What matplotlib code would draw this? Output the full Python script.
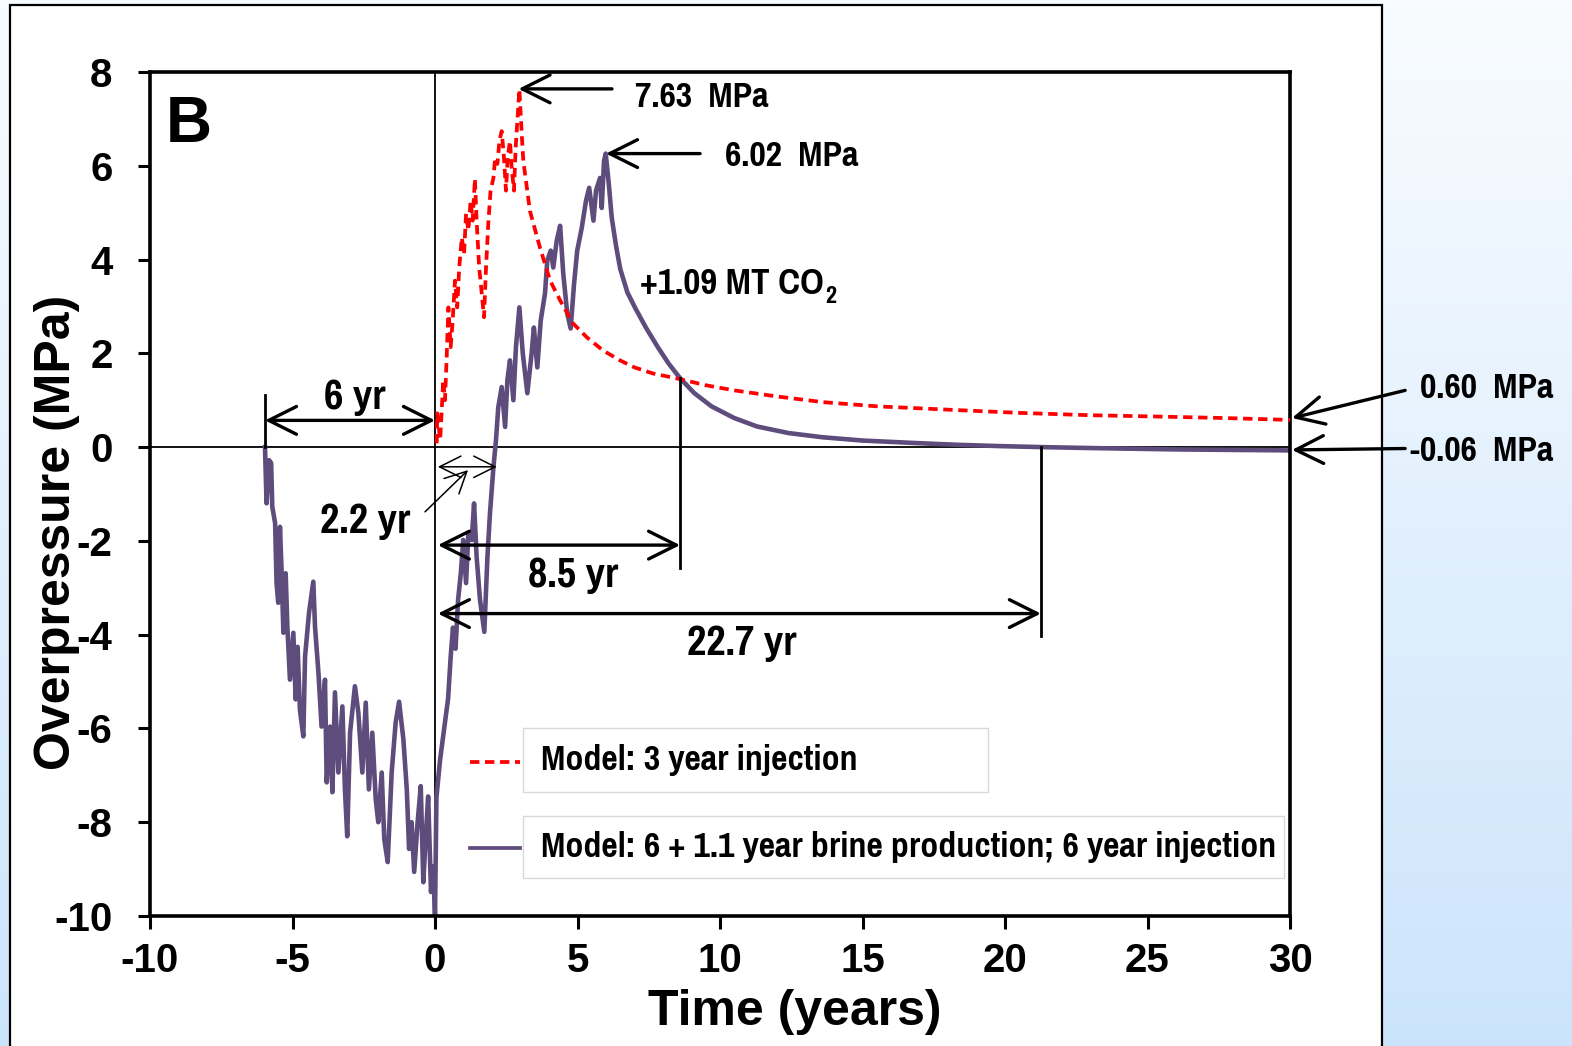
import numpy as np
import matplotlib
matplotlib.use("Agg")
import matplotlib.pyplot as plt
from matplotlib.patches import Rectangle
import logging
logging.getLogger("matplotlib.font_manager").setLevel(logging.ERROR)

# ---------------- data ----------------
# Brine production (6 yr) then 6 yr injection, then relaxation
purple_t = [-5.965, -5.91, -5.82, -5.75, -5.71, -5.61, -5.56, -5.50, -5.44, -5.38, -5.32, -5.24,
            -5.18, -5.09, -4.97, -4.89, -4.82, -4.74, -4.62, -4.56, -4.42, -4.27, -4.21, -4.09,
            -3.98, -3.86, -3.80, -3.68, -3.60, -3.51, -3.39, -3.25, -3.16, -3.08, -2.98, -2.81,
            -2.69, -2.55, -2.43, -2.32, -2.20, -2.08, -1.99, -1.87, -1.78, -1.66, -1.52, -1.38,
            -1.26, -1.11, -0.99, -0.91, -0.82, -0.73, -0.61, -0.50, -0.41, -0.33, -0.24, -0.14,
            -0.06, 0.00,
            0.05, 0.18, 0.30, 0.46, 0.55, 0.63, 0.72, 0.81, 0.91, 0.99, 1.09, 1.17, 1.29, 1.37,
            1.46, 1.58, 1.73, 1.84, 1.93, 2.05, 2.14, 2.22, 2.34, 2.46, 2.54, 2.63, 2.75, 2.84,
            2.96, 3.08, 3.24, 3.39, 3.47, 3.59, 3.71, 3.86, 3.94, 4.06, 4.15, 4.27, 4.39, 4.50,
            4.64, 4.76, 4.88, 4.99, 5.15, 5.30, 5.41, 5.56, 5.65, 5.79, 5.85, 5.93, 5.99,
            6.10, 6.20, 6.35, 6.50, 6.75, 7.04, 7.40, 7.82, 8.20, 8.60, 9.10, 9.70, 10.5, 11.3,
            12.4, 13.6, 15.0, 16.75, 18.3, 19.9, 21.3, 23.0, 26.1, 30.0]
purple_p = [0.00, -1.20, -0.28, -0.34, -1.27, -1.62, -2.90, -3.32, -1.70, -2.69, -3.96, -2.69,
            -3.83, -4.96, -3.96, -5.38, -4.26, -5.60, -6.17, -4.47, -3.53, -2.87, -3.83, -4.81,
            -5.96, -4.96, -7.15, -5.96, -7.36, -5.23, -6.94, -5.53, -7.30, -8.30, -6.09, -5.10,
            -5.66, -6.94, -5.45, -7.30, -6.09, -7.51, -8.00, -6.94, -8.36, -8.85, -6.94, -5.87,
            -5.43, -6.23, -7.30, -8.57, -8.00, -9.06, -8.00, -7.23, -9.28, -8.36, -7.45, -9.49,
            -8.94, -10.0,
            -7.47, -6.66, -6.10, -5.36, -4.47, -3.85, -4.30, -3.26, -2.66, -1.98, -2.90, -1.83,
            -1.98, -1.20, -2.34, -3.26, -3.94, -2.34, -1.40, -0.43, 0.15, 0.85, 1.28, 0.43, 1.43,
            1.85, 1.00, 2.13, 2.98, 2.00, 1.15, 2.00, 2.55, 1.70, 2.70, 3.28, 3.98, 4.19, 3.83,
            4.40, 4.72, 3.70, 2.85, 2.53, 3.49, 4.19, 4.68, 5.26, 5.53, 4.83, 5.47, 5.74, 5.10,
            6.10, 6.26,
            5.60, 4.90, 4.30, 3.80, 3.30, 2.95, 2.55, 2.13, 1.78, 1.47, 1.15, 0.87, 0.62, 0.44,
            0.30, 0.21, 0.14, 0.09, 0.05, 0.02, 0.00, -0.02, -0.05, -0.07]

# 3 year injection, then relaxation
red_t = [0.06, 0.08, 0.18, 0.23, 0.29, 0.35, 0.41, 0.47, 0.55, 0.62, 0.70, 0.78, 0.85, 0.94,
         1.02, 1.09, 1.17, 1.25, 1.32, 1.40, 1.46, 1.55, 1.64, 1.72, 1.79, 1.87, 1.95, 2.05,
         2.11, 2.19, 2.26, 2.34, 2.42, 2.49, 2.55, 2.63, 2.69, 2.77, 2.83, 2.89, 2.96,
         3.05, 3.10, 3.33, 3.68, 4.04, 4.39, 4.84, 5.33, 5.90, 6.49, 7.00, 7.65, 8.60, 9.50,
         10.5, 12.0, 13.6, 15.5, 18.3, 20.5, 23.0, 25.5, 27.7, 30.0]
red_p = [0.08, 0.72, 0.15, 0.72, 1.43, 1.00, 1.91, 2.98, 2.13, 2.70, 3.55, 2.98, 3.83, 4.47,
         4.13, 4.98, 4.62, 5.26, 4.83, 5.72, 4.83, 3.83, 3.28, 2.77, 3.83, 4.77, 5.47, 5.74,
         6.17, 6.04, 6.53, 6.74, 6.17, 5.47, 6.17, 6.53, 5.96, 5.47, 6.38, 6.96, 7.63,
         6.60, 6.10, 5.04, 4.26, 3.55, 3.13, 2.64, 2.34, 2.06, 1.85, 1.70, 1.57, 1.45, 1.32,
         1.21, 1.08, 0.96, 0.87, 0.79, 0.73, 0.68, 0.65, 0.62, 0.58]

xticks = [-10, -5, 0, 5, 10, 15, 20, 25, 30]
yticks = [-10, -8, -6, -4, -2, 0, 2, 4, 6, 8]
legend_labels = ["Model: 3 year injection",
                 "Model: 6 + 1.1 year brine production; 6 year injection"]

PURPLE = "#5e4c7c"
RED = "#ff0000"
NARROW = ["Pragati Narrow", "PT Sans Narrow", "Fira Sans Condensed", "DejaVu Sans"]
WIDE = ["Liberation Sans", "DejaVu Sans"]

W, H = 1572, 1046
fig = plt.figure(figsize=(W / 100, H / 100), dpi=100)

# background gradient
bg = fig.add_axes([0, 0, 1, 1], zorder=-10)
top = np.array([0.975, 0.988, 1.0])
bot = np.array([0.80, 0.895, 0.985])
g = np.linspace(0, 1, 256)[:, None]
img = top[None, None, :] * (1 - g[..., None]) + bot[None, None, :] * g[..., None]
img = np.repeat(img, 4, axis=1)
bg.imshow(img, aspect="auto", extent=[0, 1, 0, 1])
bg.set_xlim(0, 1)
bg.set_ylim(0, 1)
bg.axis("off")
bg.add_patch(Rectangle((10 / W, -0.05), (1382 - 10) / W, 1.05 - 5 / H,
                       facecolor="white", edgecolor="black", lw=1.6,
                       transform=bg.transAxes))

ax = fig.add_axes([150 / W, (H - 916) / H, 1140 / W, 844 / H])
ax.set_xlim(-10, 30)
ax.set_ylim(-10, 8)
ax.set_xticks(xticks)
ax.set_yticks(yticks)
ax.set_xticklabels([str(v) for v in xticks], fontsize=29, fontweight="bold", family=WIDE)
ax.set_yticklabels([str(v) for v in yticks], fontsize=29, fontweight="bold", family=WIDE)
ax.tick_params(axis="both", direction="out", length=9, width=2.2, color="black")
ax.tick_params(axis="x", pad=10)
ax.tick_params(axis="y", pad=18)
for s in ax.spines.values():
    s.set_linewidth(2.6)
    s.set_color("black")

ax.axhline(0, color="black", lw=1.3, zorder=1)
ax.axvline(0, color="black", lw=1.3, zorder=1)

ax.plot(red_t, red_p, color=RED, lw=2.7, dashes=(2.5, 1.5), zorder=3)
ax.plot(purple_t, purple_p, color=PURPLE, lw=3.3, zorder=2)

# panel letter
ax.text(0.034, 0.937, "B", transform=ax.transAxes, fontsize=46, fontweight="bold",
        family=WIDE, ha="center", va="center")

def arrow(tip, tail, style="->", lw=2.4, ms=25, hl=0.8, hw=0.4):
    ax.annotate("", xy=tip, xytext=tail, annotation_clip=False,
                arrowprops=dict(arrowstyle=f"{style},head_length={hl},head_width={hw}",
                                lw=lw, color="black", mutation_scale=ms,
                                shrinkA=0, shrinkB=0))

def vline(t, p0, p1, lw=2.0):
    ax.plot([t, t], [p0, p1], color="black", lw=lw, zorder=4)

def label(x, y, s, size, ha="center"):
    return ax.text(x, y, s, fontsize=size, fontweight="bold", family=NARROW,
                   ha=ha, va="center", clip_on=False)

# 6 yr
vline(-5.965, 0.0, 1.12)
arrow((0.0, 0.57), (-5.965, 0.57), style="<->")
label(-2.8, 1.06, "6 yr", 33)

# 2.2 yr
arrow((2.17, -0.42), (0.1, -0.42), style="<->", lw=1.1, ms=22, hl=0.7, hw=0.35)
arrow((1.16, -0.49), (-0.35, -1.38), style="->", lw=1.1, ms=22, hl=0.7, hw=0.35)
label(-2.46, -1.58, "2.2 yr", 33)

# 8.5 yr
vline(8.6, 1.47, -2.57)
arrow((8.6, -2.09), (0.1, -2.09), style="<->")
label(4.84, -2.72, "8.5 yr", 33)

# 22.7 yr
vline(21.26, 0.0, -4.03)
arrow((21.26, -3.55), (0.1, -3.55), style="<->")
label(10.77, -4.17, "22.7 yr", 33)

# peak labels
arrow((2.93, 7.64), (6.21, 7.64))
label(7.02, 7.47, "7.63  MPa", 28, ha="left")
arrow((6.0, 6.26), (9.3, 6.26))
label(10.18, 6.21, "6.02  MPa", 28, ha="left")
co2 = label(7.19, 3.49, "+1.09 MT CO", 29, ha="left")
ax.annotate("2", xy=(1.0, 0.12), xycoords=co2, xytext=(1, 0), textcoords="offset points",
            fontsize=19, fontweight="bold", family=NARROW, ha="left", va="center",
            annotation_clip=False)

# end values
arrow((30.07, 0.62), (34.04, 1.21))
label(34.56, 1.25, "0.60  MPa", 28, ha="left")
arrow((30.07, -0.06), (34.04, -0.03))
label(34.2, -0.08, "-0.06  MPa", 28, ha="left")

# legend (hand-laid like the original)
def axf(px, py):
    return (px - 150) / 1140, (916 - py) / 844

for (y_line, box_top, box_bot, box_right, style, color, text) in [
        (762, 728, 792, 988, (2.5, 1.5), RED, legend_labels[0]),
        (848, 816, 878, 1284, None, PURPLE, legend_labels[1])]:
    x0, y0 = axf(470, y_line)
    x1, _ = axf(520, y_line)
    ln, = ax.plot([x0, x1], [y0, y0], transform=ax.transAxes, color=color, lw=2.7, zorder=5)
    if style:
        ln.set_dashes(style)
    bx0, by0 = axf(523, box_bot)
    bx1, by1 = axf(box_right, box_top)
    ax.add_patch(Rectangle((bx0, by0), bx1 - bx0, by1 - by0, transform=ax.transAxes,
                           facecolor="white", edgecolor="#d8d8d8", lw=1.0, zorder=5))
    tx, ty = axf(541, (box_top + box_bot) / 2)
    ax.text(tx, ty, text, transform=ax.transAxes, fontsize=28, fontweight="bold",
            family=NARROW, ha="left", va="center", zorder=6)

fig.text(57 / W, 1 - 532 / H, "Overpressure (MPa)", rotation=90, fontsize=36,
         fontweight="bold", family=WIDE, ha="center", va="center")
fig.text(795 / W, 1 - 1012 / H, "Time (years)", fontsize=36,
         fontweight="bold", family=WIDE, ha="center", va="center")

fig.savefig("out.png", dpi=100)
